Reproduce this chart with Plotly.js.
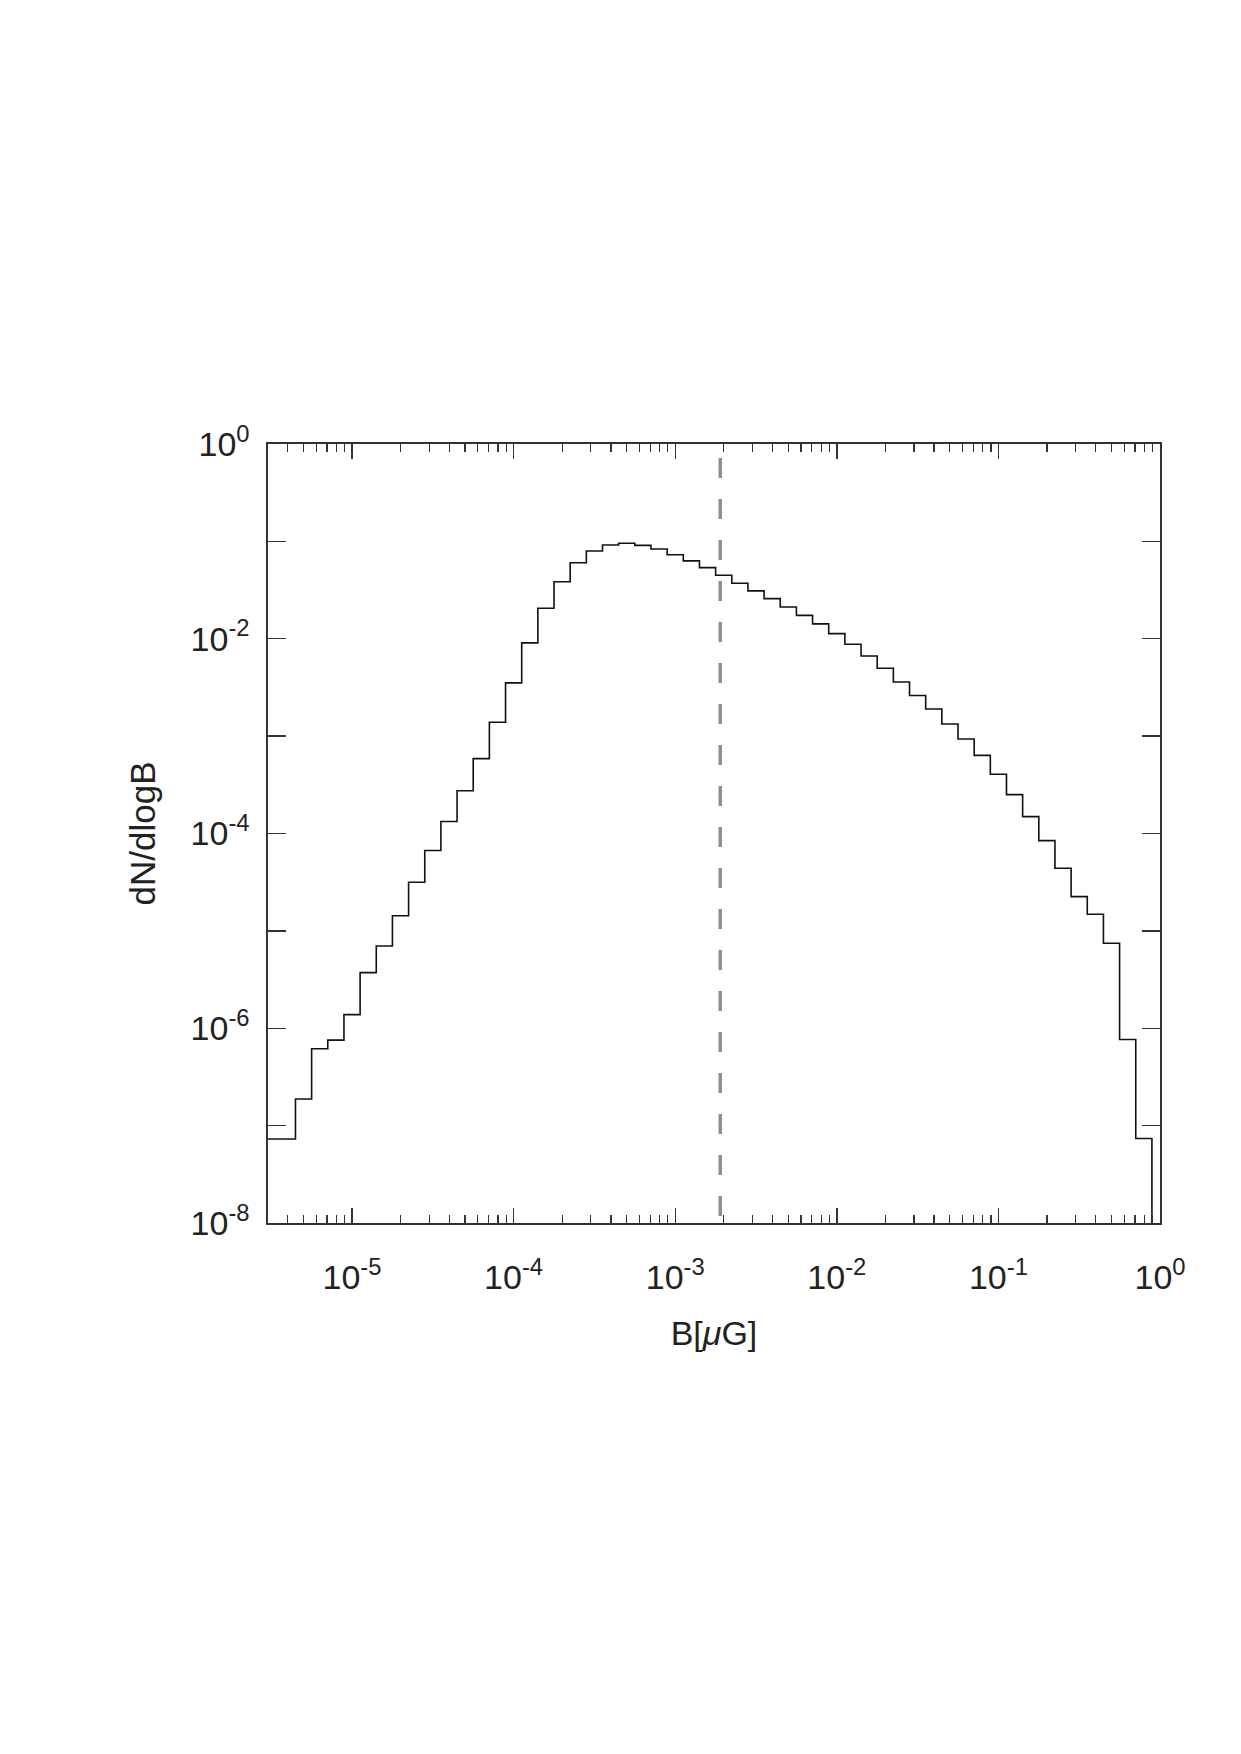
<!DOCTYPE html>
<html>
<head>
<meta charset="utf-8">
<script src="https://cdn.plot.ly/plotly-3.0.1.min.js"></script>
<style>
html,body{margin:0;padding:0;background:#ffffff;}
#chart{width:1241px;height:1754px;}
</style>
</head>
<body>
<div id="chart"></div>
<script>
// Histogram bin left edges (log10 B[μG]), bin width 0.1 dex, plus the final right edge
const binEdgesLogB = [
  -5.55, -5.45, -5.35, -5.25, -5.15, -5.05, -4.95, -4.85, -4.75, -4.65,
  -4.55, -4.45, -4.35, -4.25, -4.15, -4.05, -3.95, -3.85, -3.75, -3.65,
  -3.55, -3.45, -3.35, -3.25, -3.15, -3.05, -2.95, -2.85, -2.75, -2.65,
  -2.55, -2.45, -2.35, -2.25, -2.15, -2.05, -1.95, -1.85, -1.75, -1.65,
  -1.55, -1.45, -1.35, -1.25, -1.15, -1.05, -0.95, -0.85, -0.75, -0.65,
  -0.55, -0.45, -0.35, -0.25, -0.15, -0.05
];

// dN/dlogB in each bin
const dNdlogB = [
  7.3e-8, 7.3e-8, 1.88e-7, 6.15e-7, 7.55e-7, 1.38e-6, 3.73e-6, 7.0e-6, 1.43e-5, 3.16e-5,
  6.68e-5, 1.33e-4, 2.75e-4, 5.87e-4, 1.39e-3, 3.52e-3, 9.06e-3, 2.06e-2, 3.85e-2, 6.04e-2,
  7.96e-2, 9.18e-2, 9.55e-2, 9.10e-2, 8.36e-2, 7.29e-2, 6.30e-2, 5.37e-2, 4.49e-2, 3.72e-2,
  3.10e-2, 2.58e-2, 2.12e-2, 1.74e-2, 1.42e-2, 1.13e-2, 8.77e-3, 6.65e-3, 4.98e-3, 3.60e-3,
  2.61e-3, 1.90e-3, 1.33e-3, 9.35e-4, 6.35e-4, 4.06e-4, 2.51e-4, 1.49e-4, 8.45e-5, 4.40e-5,
  2.25e-5, 1.48e-5, 7.46e-6, 7.66e-7, 7.38e-8
];
// empty bin after the last one (drops below the plotted range)
const emptyBinValue = 1e-12;

// vertical dashed reference value of B
const thresholdB = 1.9e-3;

// tick values and labels
const xTickVals = [1e-5, 1e-4, 1e-3, 1e-2, 1e-1, 1];
const xTickText = ['10<sup>-5</sup>', '10<sup>-4</sup>', '10<sup>-3</sup>', '10<sup>-2</sup>', '10<sup>-1</sup>', '10<sup>0</sup>'];
const yTickVals = [1e-8, 1e-7, 1e-6, 1e-5, 1e-4, 1e-3, 1e-2, 1e-1, 1];
const yTickText = ['10<sup>-8</sup>', '', '10<sup>-6</sup>', '', '10<sup>-4</sup>', '', '10<sup>-2</sup>', '', '10<sup>0</sup>'];
const minorMultipliers = [2, 3, 4, 5, 6, 7, 8, 9];
const minorDecades = [1e-6, 1e-5, 1e-4, 1e-3, 1e-2, 1e-1];

const xMinorVals = [];
minorDecades.forEach(d => minorMultipliers.forEach(m => xMinorVals.push(m * d)));

const xEdges = binEdgesLogB.map(v => Math.pow(10, v));
const yStep = dNdlogB.concat([emptyBinValue]);

const hist = {
  type: 'scatter',
  mode: 'lines',
  x: xEdges,
  y: yStep,
  line: {shape: 'hv', color: '#111111', width: 1.6},
  hoverinfo: 'x+y'
};

const axisCol = '#333333';
const baseFont = {family: '"Liberation Sans", Arial, Helvetica, sans-serif', size: 34, color: '#222222'};

const layout = {
  width: 1241,
  height: 1754,
  margin: {l: 268, r: 81, t: 444, b: 531},
  paper_bgcolor: '#ffffff',
  plot_bgcolor: '#ffffff',
  showlegend: false,
  font: baseFont,
  xaxis: {
    type: 'log',
    range: [-5.52, 0],
    showgrid: false,
    zeroline: false,
    showline: true,
    linecolor: axisCol,
    linewidth: 1.6,
    mirror: 'allticks',
    ticks: 'inside',
    ticklen: 15,
    tickwidth: 1.4,
    tickcolor: axisCol,
    tickmode: 'array',
    tickvals: xTickVals,
    ticktext: xTickText,
    ticklabelstandoff: 24,
    tickfont: {size: 34},
    minor: {
      tickmode: 'array',
      tickvals: xMinorVals,
      ticks: 'inside',
      ticklen: 8,
      tickwidth: 1.2,
      tickcolor: axisCol,
      showgrid: false
    },
    title: {text: 'B[<i>μ</i>G]', font: {size: 34}, standoff: 26}
  },
  yaxis: {
    type: 'log',
    range: [-8, 0],
    showgrid: false,
    zeroline: false,
    showline: true,
    linecolor: axisCol,
    linewidth: 1.6,
    mirror: 'allticks',
    ticks: 'inside',
    ticklen: 18,
    tickwidth: 1.4,
    tickcolor: axisCol,
    tickmode: 'array',
    tickvals: yTickVals,
    ticktext: yTickText,
    ticklabelstandoff: 10,
    tickfont: {size: 34},
    title: {text: 'dN/dlogB', font: {size: 35}, standoff: 24}
  },
  shapes: [{
    type: 'line',
    xref: 'x',
    yref: 'paper',
    x0: thresholdB,
    x1: thresholdB,
    y0: 0.982,
    y1: 0,
    line: {color: '#8f8f8f', width: 3.5, dash: '20px,21px'}
  }]
};

Plotly.newPlot('chart', [hist], layout, {staticPlot: true, displayModeBar: false});
</script>
</body>
</html>
